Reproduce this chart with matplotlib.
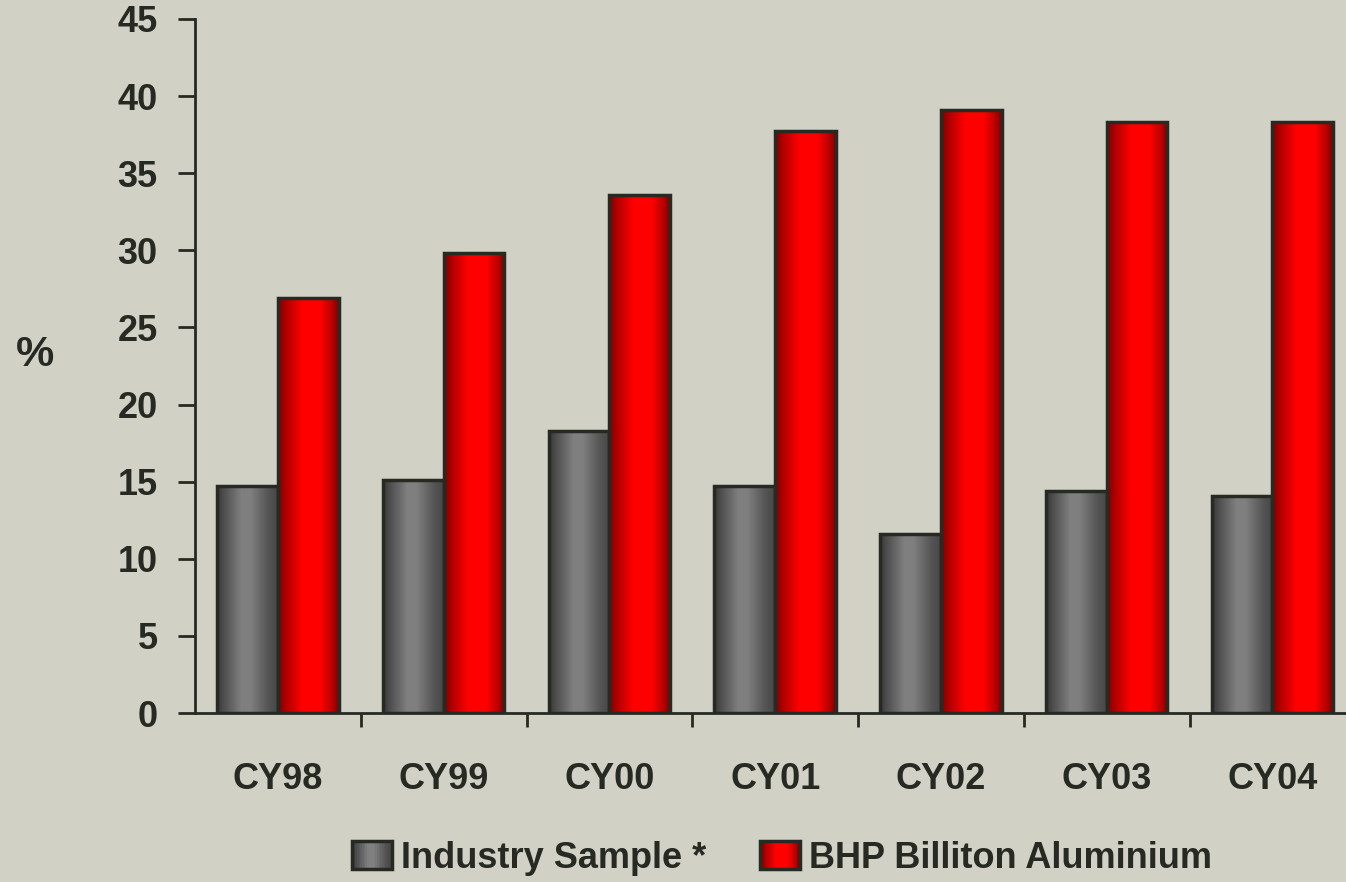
import matplotlib.pyplot as plt
import numpy as np
from matplotlib.patches import Rectangle
from matplotlib.legend_handler import HandlerBase

years = ["CY98", "CY99", "CY00", "CY01", "CY02", "CY03", "CY04"]
industry = [14.7, 15.1, 18.3, 14.7, 11.6, 14.4, 14.1]
bhp = [26.9, 29.8, 33.6, 37.7, 39.1, 38.3, 38.3]
series_names = ["Industry Sample *", "BHP Billiton Aluminium"]
y_ticks = [0, 5, 10, 15, 20, 25, 30, 35, 40, 45]

BG = "#d1d1c5"
INK = "#262a22"
plt.rcParams["font.family"] = ["Liberation Sans", "DejaVu Sans"]
plt.rcParams["font.weight"] = "bold"


def gradient_strip(kind, n=64):
    # horizontal shading: dark edges, bright middle
    t = np.linspace(0, 1, n)
    if kind == "gray":
        v = np.interp(t, [0, 0.1, 0.4, 0.55, 0.85, 1], [0.22, 0.3, 0.5, 0.5, 0.33, 0.28])
        rgb = np.stack([v, v, v], axis=-1)
    else:
        r = np.interp(t, [0, 0.15, 0.4, 0.7, 0.88, 1], [0.5, 0.72, 1.0, 1.0, 0.75, 0.5])
        rgb = np.stack([r, np.zeros(n), np.zeros(n)], axis=-1)
    return rgb[np.newaxis, :, :]


fig = plt.figure(figsize=(13.46, 8.82), dpi=100, facecolor=BG)
ax = fig.add_axes([0.1449, 0.1916, 0.862, 0.787])
ax.set_facecolor(BG)

x = np.arange(len(years))
w = 0.367
for i in range(len(years)):
    for val, kind, off in [(industry[i], "gray", -w), (bhp[i], "red", 0)]:
        x0 = x[i] + off
        ax.imshow(gradient_strip(kind), extent=(x0, x0 + w, 0, val),
                  aspect="auto", zorder=2, interpolation="bilinear")
        ax.add_patch(Rectangle((x0, 0), w, val, facecolor="none",
                               edgecolor=INK, linewidth=2.5, zorder=3))

ax.set_xlim(-0.5, len(years) - 0.5)
ax.set_ylim(0, 45)
ax.set_yticks(y_ticks)
ax.set_xticks(x)
ax.set_xticklabels(years)
ax.set_xticks(np.arange(0.5, len(years) - 0.5, 1), minor=True)

for s in ["top", "right"]:
    ax.spines[s].set_visible(False)
for s in ["left", "bottom"]:
    ax.spines[s].set_color(INK)
    ax.spines[s].set_linewidth(2)

ax.tick_params(axis="y", length=12, width=2, color=INK, pad=15,
               labelsize=26, labelcolor=INK)
ax.tick_params(axis="x", which="major", length=0, pad=35,
               labelsize=26, labelcolor=INK)
ax.tick_params(axis="x", which="minor", length=10, width=2, color=INK)
for lbl in ax.get_xticklabels() + ax.get_yticklabels():
    lbl.set_fontweight("bold")

fig.text(0.026, 0.598, "%", fontsize=31, fontweight="bold", color=INK,
         ha="center", va="center")


class GradientHandler(HandlerBase):
    def __init__(self, kind):
        super().__init__()
        self.kind = kind

    def create_artists(self, legend, orig_handle, xdescent, ydescent,
                       width, height, fontsize, trans):
        n = 24
        arts = []
        cols = gradient_strip(self.kind, n)[0]
        for k in range(n):
            arts.append(Rectangle((-xdescent + k * width / n, -ydescent),
                                  width / n, height, facecolor=cols[k],
                                  edgecolor="none", transform=trans))
        arts.append(Rectangle((-xdescent, -ydescent), width, height,
                              facecolor="none", edgecolor=INK, linewidth=2.5,
                              transform=trans))
        return arts


h1 = Rectangle((0, 0), 1, 1)
h2 = Rectangle((0, 0), 1, 1)
leg = fig.legend([h1, h2], series_names, loc="center", ncol=2,
                 bbox_to_anchor=(0.581, 0.027), frameon=False,
                 fontsize=26, handlelength=1.1, handleheight=0.8,
                 handletextpad=0.25, columnspacing=1.5,
                 handler_map={h1: GradientHandler("gray"), h2: GradientHandler("red")})
for t in leg.get_texts():
    t.set_color(INK)
    t.set_fontweight("bold")

fig.savefig("out.png", dpi=100, facecolor=BG)
